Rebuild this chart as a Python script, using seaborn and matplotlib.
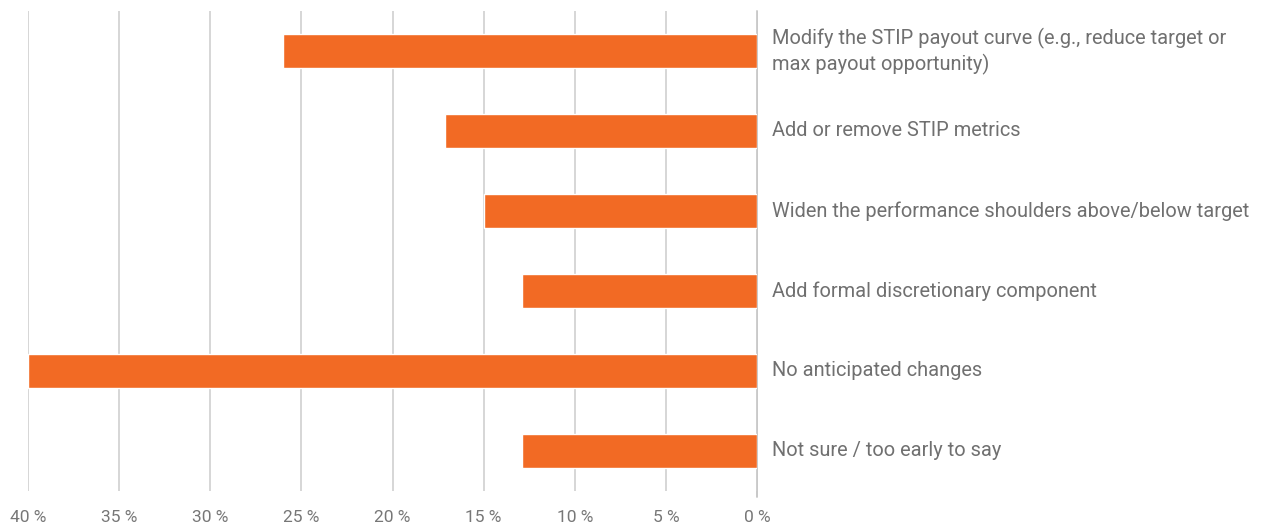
import matplotlib
matplotlib.use("Agg")
import matplotlib.pyplot as plt
import seaborn as sns
import pandas as pd

categories = [
    "Modify the STIP payout curve (e.g., reduce target or\nmax payout opportunity)",
    "Add or remove STIP metrics",
    "Widen the performance shoulders above/below target",
    "Add formal discretionary component",
    "No anticipated changes",
    "Not sure / too early to say",
]
values = [26.0, 17.1, 15.0, 12.9, 40.0, 12.9]
tick_values = [40, 35, 30, 25, 20, 15, 10, 5, 0]
tick_labels = ["40 %", "35 %", "30 %", "25 %", "20 %", "15 %", "10 %", "5 %", "0 %"]

df = pd.DataFrame({"category": categories, "value": values})

sns.set_theme(style="white")
plt.rcParams["font.family"] = ["Roboto", "DejaVu Sans"]

fig = plt.figure(figsize=(12.73, 5.29), dpi=100)
ax = fig.add_axes([28 / 1273, 1 - 491 / 529, (757 - 28) / 1273, 480 / 529])

sns.barplot(data=df, x="value", y="category", orient="h", color="#F26A24",
            saturation=1, width=0.42, ax=ax)

ax.set_xlim(40, 0)
ax.set_xticks(tick_values)
ax.set_xticklabels(tick_labels, color="#777777", fontsize=12.5)
ax.tick_params(axis="x", length=0, pad=14)
ax.set_yticks([])
ax.set_xlabel("")
ax.set_ylabel("")
for s in ax.spines.values():
    s.set_visible(False)
ax.grid(axis="x", color="#d0d0d0", linewidth=1.2)
ax.axvline(0, color="#c4c4c4", linewidth=1.3, ymin=-0.012, ymax=1, clip_on=False, zorder=0.5)
ax.set_axisbelow(True)

for i, c in enumerate(categories):
    ax.text(-0.8, i, c, ha="left", va="center", color="#707070",
            fontsize=14.4, linespacing=1.3)

fig.savefig("out.png", dpi=100)
